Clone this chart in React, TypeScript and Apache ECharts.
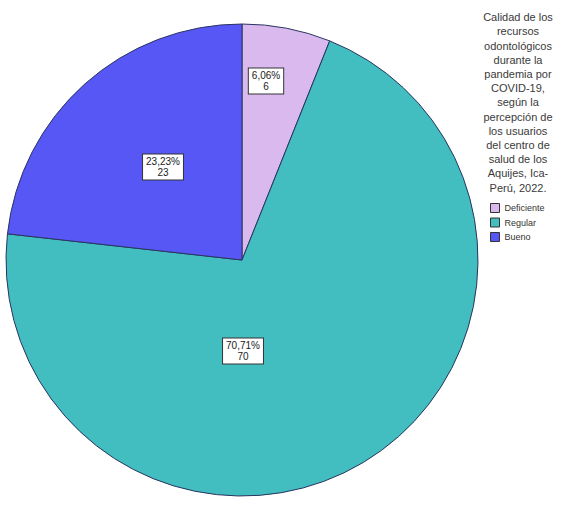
import React, { useEffect, useRef } from "react";
import * as echarts from "echarts";

const categories = ["Deficiente", "Regular", "Bueno"];
const counts = [6, 70, 23];
const colors = ["#D9B9EE", "#42BEC1", "#5757F6"];
const titleLines = [
  "Calidad de los",
  "recursos",
  "odontológicos",
  "durante la",
  "pandemia por",
  "COVID-19,",
  "según la",
  "percepción de",
  "los usuarios",
  "del centro de",
  "salud de los",
  "Aquijes, Ica-",
  "Perú, 2022.",
];

const CX = 242;
const CY = 260;
const labelOffsets = [
  [24, -179],
  [1, 91],
  [-79, -93],
];

export default function App() {
  const ref = useRef<HTMLDivElement>(null);
  useEffect(() => {
    if (!ref.current) return;
    const chart = echarts.init(ref.current, undefined, { renderer: "svg" });
    const total = counts.reduce((a, b) => a + b, 0);
    chart.setOption({
      animation: false,
      backgroundColor: "#ffffff",
      title: {
        text: titleLines.join("\n"),
        left: 518,
        top: 10,
        padding: 0,
        textAlign: "center",
        textStyle: {
          fontFamily: "Liberation Sans, Arial, sans-serif",
          fontSize: 11,
          fontWeight: "normal",
          color: "#3a3a3a",
          lineHeight: 14.2,
          align: "center",
        },
      },
      legend: {
        orient: "vertical",
        left: 490,
        top: 202,
        padding: 0,
        itemWidth: 9,
        itemHeight: 9,
        itemGap: 2.5,
        icon: "rect",
        data: categories,
        selectedMode: false,
        itemStyle: { borderColor: "#333333", borderWidth: 1 },
        textStyle: {
          fontFamily: "Liberation Sans, Arial, sans-serif",
          fontSize: 9,
          color: "#333333",
          lineHeight: 12,
        },
      },
      series: [
        {
          type: "pie",
          center: [CX, CY],
          radius: 236,
          startAngle: 90,
          clockwise: true,
          silent: true,
          itemStyle: { borderColor: "#2a3560", borderWidth: 1 },
          emphasis: { disabled: true },
          labelLine: { show: false },
          label: {
            show: true,
            position: "inside",
            align: "center",
            verticalAlign: "middle",
            formatter: (p: any) =>
              ((p.value / total) * 100).toFixed(2).replace(".", ",") + "%\n" + p.value,
            fontFamily: "Liberation Sans, Arial, sans-serif",
            fontSize: 10,
            lineHeight: 11,
            color: "#222222",
            backgroundColor: "#ffffff",
            borderColor: "#333333",
            borderWidth: 1,
            padding: [2, 3, 1, 3],
          },
          labelLayout: (params: any) => {
            const o = labelOffsets[params.dataIndex];
            return { x: CX + o[0], y: CY + o[1] };
          },
          data: categories.map((name, i) => ({
            name,
            value: counts[i],
            itemStyle: { color: colors[i] },
          })),
        },
      ],
    });
    return () => chart.dispose();
  }, []);
  return (
    <div
      ref={ref}
      style={{ position: "fixed", left: 0, top: 0, width: 561, height: 506 }}
    />
  );
}
